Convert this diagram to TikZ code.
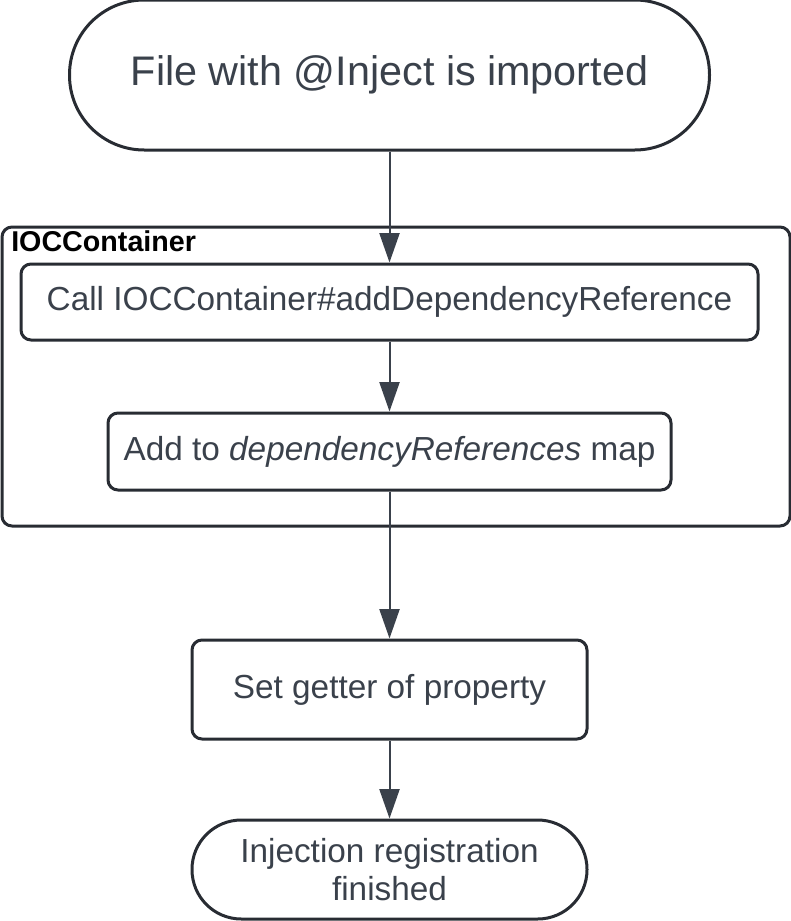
\documentclass[tikz,border=0pt]{standalone}
\usepackage{fontspec}
\setmainfont{Liberation Sans}
\usetikzlibrary{arrows.meta}
\definecolor{edge}{HTML}{282C33}
\definecolor{ink}{HTML}{3A414B}
\begin{document}
\begin{tikzpicture}[x = 0.75pt, y = -0.75pt,
                        stepbox/.style = {rectangle, draw = edge, line width = 2.25pt, rounded corners = 7.5pt,
                                          text = ink, inner sep = 0pt, align = center,
                                          font = \fontsize{25}{29}\selectfont},
                        terminal/.style = {stepbox, rounded corners = 37pt},
                        flow/.style = {draw = ink, line width = 1.5pt, -{Triangle[width = 15pt, length = 22pt]}}]
      \useasboundingbox (0, 0) rectangle (791, 921);
      \node [draw = edge, line width = 2.25pt, rounded corners = 7.5pt, minimum width = 591pt,
             minimum height = 224.25pt] (ioc) at (396, 376.5){};
      \node [anchor = base west, font = \fontsize{21.5}{25}\bfseries, inner sep = 0pt] (ioclabel) at (11, 251){IOCContainer};
      \node [terminal, rounded corners = 56pt, minimum width = 480pt, minimum height = 112.5pt,
             font = \fontsize{31}{36}\selectfont] (start) at (389.5, 75){File with @Inject is imported};
      \node [stepbox, minimum width = 552.75pt, minimum height = 57pt] (call) at (389.5, 302){Call IOCContainer\#addDependencyReference};
      \node [stepbox, minimum width = 422.25pt, minimum height = 57.75pt] (add) at (389.5, 451.5){Add to \textit{dependencyReferences} map};
      \node [stepbox, minimum width = 296.25pt, minimum height = 74.25pt] (getter) at (389.5, 689.5){Set getter of property};
      \node [terminal, minimum width = 296.25pt, minimum height = 74.25pt] (done) at (389.5, 869.5){Injection registration\\finished};
      \draw [flow] (start) -- (call);
      \draw [flow] (call) -- (add);
      \draw [flow] (add) -- (getter);
      \draw [flow] (getter) -- (done);
    \end{tikzpicture}
\end{document}
